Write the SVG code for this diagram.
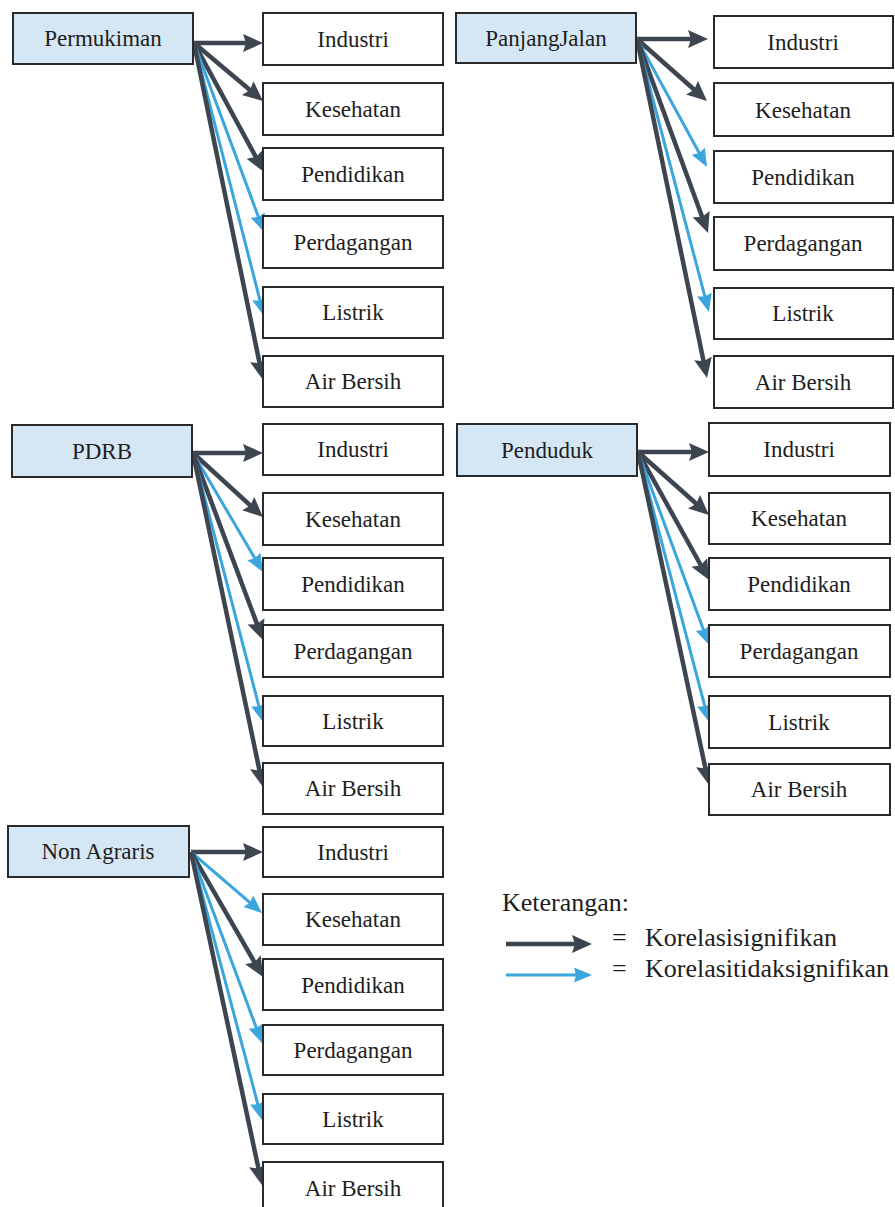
<svg xmlns="http://www.w3.org/2000/svg" width="895" height="1207" viewBox="0 0 895 1207" font-family="Liberation Serif, Times New Roman, DejaVu Serif, serif">
  <style>
    .src rect { fill: #d5e7f5; stroke: #2a2a2a; stroke-width: 2; }
    .tgt rect { fill: #ffffff; stroke: #2a2a2a; stroke-width: 2; }
    text { fill: #1e1e1e; }
    .lbl { font-size: 23px; text-anchor: middle; }
    .leg { font-size: 26px; }
    .sig { stroke: #3d4550; stroke-width: 4.5; fill: none; marker-end: url(#hd); }
    .ns { stroke: #3aa6dd; stroke-width: 3; fill: none; marker-end: url(#hb); }
  </style>
  <defs>
    <marker id="hd" markerUnits="userSpaceOnUse" markerWidth="20" markerHeight="19" refX="8" refY="9" orient="auto">
      <path d="M0,0 L20,9 L0,18 L3,9 z" fill="#3d4550"/>
    </marker>
    <marker id="hb" markerUnits="userSpaceOnUse" markerWidth="18" markerHeight="16" refX="6" refY="7.5" orient="auto">
      <path d="M0,0 L18,7.5 L0,15 L2,7.5 z" fill="#3aa6dd"/>
    </marker>
  </defs>
  <rect x="0" y="0" width="895" height="1207" fill="#ffffff"/>

  <!-- connectors -->
  <g id="connectors">
    <!-- Permukiman -->
    <line class="sig" x1="194" y1="43" x2="251" y2="43"/>
    <line class="sig" x1="194" y1="43" x2="253.8" y2="93.3"/>
    <line class="sig" x1="194" y1="43" x2="258.3" y2="161.5"/>
    <line class="ns" x1="194" y1="43" x2="259.8" y2="220.7"/>
    <line class="ns" x1="194" y1="43" x2="261" y2="304.4"/>
    <line class="sig" x1="194" y1="43" x2="260.6" y2="368.2"/>
    <!-- PDRB -->
    <line class="sig" x1="193" y1="453" x2="251" y2="453"/>
    <line class="sig" x1="193" y1="453" x2="254.1" y2="508.9"/>
    <line class="ns" x1="193" y1="453" x2="256.9" y2="561.7"/>
    <line class="sig" x1="193" y1="453" x2="258.8" y2="628.8"/>
    <line class="ns" x1="193" y1="453" x2="260" y2="710.4"/>
    <line class="sig" x1="193" y1="453" x2="260.5" y2="775.3"/>
    <!-- Non Agraris -->
    <line class="sig" x1="191" y1="852" x2="251" y2="852"/>
    <line class="ns" x1="191" y1="852" x2="252.9" y2="905.2"/>
    <line class="sig" x1="191" y1="852" x2="257" y2="966.6"/>
    <line class="ns" x1="191" y1="852" x2="257.8" y2="1031.8"/>
    <line class="ns" x1="191" y1="852" x2="258.9" y2="1108.4"/>
    <line class="sig" x1="191" y1="852" x2="259.5" y2="1173.3"/>
    <!-- PanjangJalan -->
    <line class="sig" x1="637" y1="39" x2="696" y2="39"/>
    <line class="sig" x1="637" y1="39" x2="698" y2="93"/>
    <line class="ns" x1="637" y1="39" x2="701.2" y2="156.5"/>
    <line class="sig" x1="637" y1="39" x2="703.9" y2="221.7"/>
    <line class="ns" x1="637" y1="39" x2="705.9" y2="300.4"/>
    <line class="sig" x1="637" y1="39" x2="704.6" y2="366.2"/>
    <!-- Penduduk -->
    <line class="sig" x1="638" y1="452" x2="697" y2="452"/>
    <line class="sig" x1="638" y1="452" x2="700" y2="507"/>
    <line class="sig" x1="638" y1="452" x2="703.2" y2="569.5"/>
    <line class="ns" x1="638" y1="452" x2="704.9" y2="633.7"/>
    <line class="ns" x1="638" y1="452" x2="705.9" y2="710.4"/>
    <line class="sig" x1="638" y1="452" x2="706.5" y2="773.3"/>
  </g>

  <!-- Permukiman group -->
  <g id="permukiman" class="src"><rect x="13" y="13" width="180" height="51"/><text class="lbl" x="103" y="46">Permukiman</text></g>
  <g id="p-industri" class="tgt"><rect x="263" y="13" width="180" height="52"/><text class="lbl" x="353" y="47">Industri</text></g>
  <g id="p-kesehatan" class="tgt"><rect x="263" y="83" width="180" height="52"/><text class="lbl" x="353" y="117">Kesehatan</text></g>
  <g id="p-pendidikan" class="tgt"><rect x="263" y="148" width="180" height="52"/><text class="lbl" x="353" y="182">Pendidikan</text></g>
  <g id="p-perdagangan" class="tgt"><rect x="263" y="216" width="180" height="52"/><text class="lbl" x="353" y="250">Perdagangan</text></g>
  <g id="p-listrik" class="tgt"><rect x="263" y="287" width="180" height="51"/><text class="lbl" x="353" y="320">Listrik</text></g>
  <g id="p-airbersih" class="tgt"><rect x="263" y="356" width="180" height="51"/><text class="lbl" x="353" y="389">Air Bersih</text></g>

  <!-- PDRB group -->
  <g id="pdrb" class="src"><rect x="12" y="425" width="180" height="52"/><text class="lbl" x="102" y="459">PDRB</text></g>
  <g id="d-industri" class="tgt"><rect x="263" y="424" width="180" height="51"/><text class="lbl" x="353" y="457">Industri</text></g>
  <g id="d-kesehatan" class="tgt"><rect x="263" y="493" width="180" height="52"/><text class="lbl" x="353" y="527">Kesehatan</text></g>
  <g id="d-pendidikan" class="tgt"><rect x="263" y="558" width="180" height="52"/><text class="lbl" x="353" y="592">Pendidikan</text></g>
  <g id="d-perdagangan" class="tgt"><rect x="263" y="625" width="180" height="52"/><text class="lbl" x="353" y="659">Perdagangan</text></g>
  <g id="d-listrik" class="tgt"><rect x="263" y="696" width="180" height="50"/><text class="lbl" x="353" y="729">Listrik</text></g>
  <g id="d-airbersih" class="tgt"><rect x="263" y="763" width="180" height="51"/><text class="lbl" x="353" y="796">Air Bersih</text></g>

  <!-- Non Agraris group -->
  <g id="nonagraris" class="src"><rect x="8" y="826" width="181" height="51"/><text class="lbl" x="98" y="859">Non Agraris</text></g>
  <g id="n-industri" class="tgt"><rect x="263" y="827" width="180" height="50"/><text class="lbl" x="353" y="860">Industri</text></g>
  <g id="n-kesehatan" class="tgt"><rect x="263" y="894" width="180" height="51"/><text class="lbl" x="353" y="927">Kesehatan</text></g>
  <g id="n-pendidikan" class="tgt"><rect x="263" y="959" width="180" height="51"/><text class="lbl" x="353" y="993">Pendidikan</text></g>
  <g id="n-perdagangan" class="tgt"><rect x="263" y="1025" width="180" height="50"/><text class="lbl" x="353" y="1058">Perdagangan</text></g>
  <g id="n-listrik" class="tgt"><rect x="263" y="1094" width="180" height="50"/><text class="lbl" x="353" y="1127">Listrik</text></g>
  <g id="n-airbersih" class="tgt"><rect x="263" y="1162" width="180" height="52"/><text class="lbl" x="353" y="1196">Air Bersih</text></g>

  <!-- PanjangJalan group -->
  <g id="panjangjalan" class="src"><rect x="456" y="13" width="180" height="50"/><text class="lbl" x="546" y="46">PanjangJalan</text></g>
  <g id="j-industri" class="tgt"><rect x="714" y="16" width="179" height="52"/><text class="lbl" x="803" y="50">Industri</text></g>
  <g id="j-kesehatan" class="tgt"><rect x="714" y="83" width="179" height="53"/><text class="lbl" x="803" y="118">Kesehatan</text></g>
  <g id="j-pendidikan" class="tgt"><rect x="714" y="151" width="179" height="52"/><text class="lbl" x="803" y="185">Pendidikan</text></g>
  <g id="j-perdagangan" class="tgt"><rect x="714" y="217" width="179" height="53"/><text class="lbl" x="803" y="251">Perdagangan</text></g>
  <g id="j-listrik" class="tgt"><rect x="714" y="288" width="179" height="51"/><text class="lbl" x="803" y="321">Listrik</text></g>
  <g id="j-airbersih" class="tgt"><rect x="714" y="356" width="179" height="52"/><text class="lbl" x="803" y="390">Air Bersih</text></g>

  <!-- Penduduk group -->
  <g id="penduduk" class="src"><rect x="457" y="424" width="180" height="52"/><text class="lbl" x="547" y="458">Penduduk</text></g>
  <g id="k-industri" class="tgt"><rect x="709" y="423" width="181" height="53"/><text class="lbl" x="799" y="457">Industri</text></g>
  <g id="k-kesehatan" class="tgt"><rect x="709" y="493" width="181" height="51"/><text class="lbl" x="799" y="526">Kesehatan</text></g>
  <g id="k-pendidikan" class="tgt"><rect x="709" y="558" width="181" height="52"/><text class="lbl" x="799" y="592">Pendidikan</text></g>
  <g id="k-perdagangan" class="tgt"><rect x="709" y="625" width="181" height="52"/><text class="lbl" x="799" y="659">Perdagangan</text></g>
  <g id="k-listrik" class="tgt"><rect x="709" y="696" width="181" height="52"/><text class="lbl" x="799" y="730">Listrik</text></g>
  <g id="k-airbersih" class="tgt"><rect x="709" y="764" width="181" height="51"/><text class="lbl" x="799" y="797">Air Bersih</text></g>

  <!-- legend -->
  <g id="legend">
    <text class="leg" x="502" y="911">Keterangan:</text>
    <line class="sig" x1="506" y1="944" x2="580" y2="944"/>
    <text class="leg" x="612" y="946">=</text>
    <text class="leg" x="645" y="946">Korelasisignifikan</text>
    <line class="ns" x1="506" y1="975" x2="580" y2="975"/>
    <text class="leg" x="612" y="977">=</text>
    <text class="leg" x="645" y="977">Korelasitidaksignifikan</text>
  </g>
</svg>
